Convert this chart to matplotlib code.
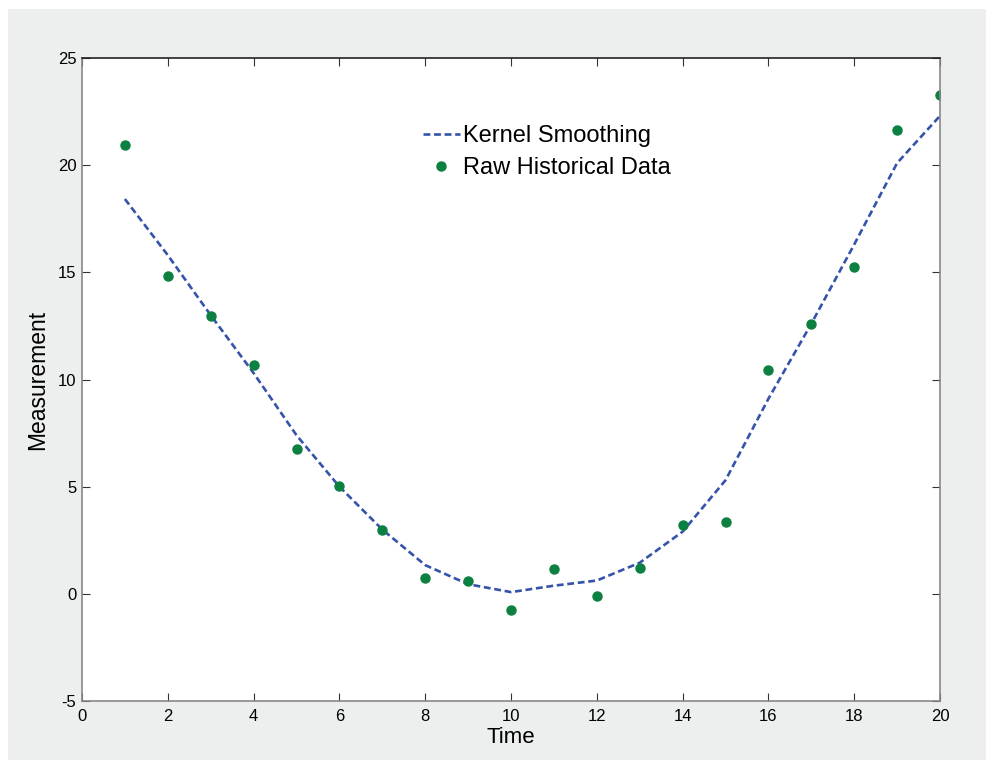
import matplotlib
matplotlib.use("Agg")
import matplotlib.pyplot as plt
from matplotlib.patches import Rectangle

plt.rcParams['font.family'] = ['Liberation Sans', 'DejaVu Sans']
plt.rcParams['axes.unicode_minus'] = False

time = list(range(1, 21))
raw = [20.94, 14.83, 12.96, 10.67, 6.75, 5.02, 2.97, 0.74, 0.60, -0.76,
       1.16, -0.10, 1.21, 3.21, 3.35, 10.44, 12.59, 15.25, 21.64, 23.27]
smooth = [18.42, 15.8, 13.0, 10.3, 7.4, 5.0, 3.0, 1.34, 0.45, 0.08,
          0.38, 0.62, 1.45, 2.9, 5.3, 9.1, 12.6, 16.3, 20.1, 22.3]

W, H = 987, 760
fig = plt.figure(figsize=(W / 100, H / 100), dpi=100, facecolor='white')
fig.patches.append(Rectangle((8 / W, 0), 1, 1 - 9 / H, transform=fig.transFigure,
                             facecolor='#edeeee', edgecolor='none', zorder=-1))

ax = fig.add_axes([82 / W, 1 - 701 / H, (940 - 82) / W, (701 - 58) / H])
ax.plot(time, smooth, linestyle=(0, (2.6, 1.4)), color='#3553aa', linewidth=1.9,
        label='Kernel Smoothing')
ax.plot(time, raw, linestyle='none', marker='o', markersize=6.5, color='#0b8040',
        label='Raw Historical Data')

ax.set_xlim(0, 20)
ax.set_ylim(-5, 25)
ax.set_xticks(range(0, 21, 2))
ax.set_yticks(range(-5, 26, 5))
ax.tick_params(direction='in', length=6, width=0.8, labelsize=12, top=True, right=True,
               color='#333333')
ax.tick_params(axis='x', pad=6)
ax.tick_params(axis='y', pad=4)
for side in ['left', 'bottom', 'right']:
    ax.spines[side].set_color('#888888')
ax.spines['top'].set_color('#222222')
for s in ax.spines.values():
    s.set_linewidth(1.2)

ax.set_xlabel('Time', fontsize=16, labelpad=2)
ax.set_ylabel('Measurement', fontsize=16.5, labelpad=6)

ax.legend(loc='upper left', bbox_to_anchor=(423 / W, 1 - 125 / H),
          bbox_transform=fig.transFigure, frameon=False, fontsize=17,
          handlelength=1.55, handletextpad=0.13, labelspacing=0.43,
          borderaxespad=0, borderpad=0)

fig.savefig('out.png', dpi=100, facecolor=fig.get_facecolor())
